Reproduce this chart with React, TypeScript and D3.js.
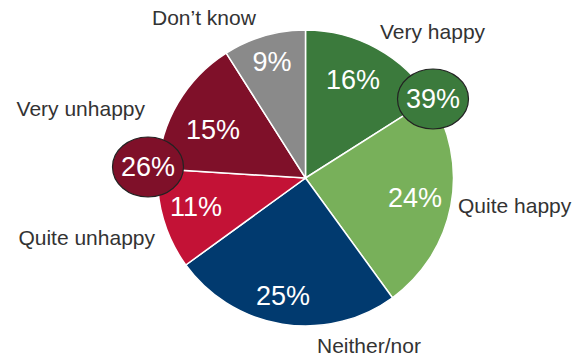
import React from "react";
import * as d3 from "d3";

const categories = ["Very happy", "Quite happy", "Neither/nor", "Quite unhappy", "Very unhappy", "Don\u2019t know"];
const values = [16, 24, 25, 11, 15, 9];
const colors = ["#3b7a3c", "#78b05a", "#013a6f", "#c31236", "#7f1029", "#8a8a8a"];
const labelPositions: [number, number, string][] = [
  [380, 39, "start"],
  [458, 213, "start"],
  [317, 353, "start"],
  [155, 245, "end"],
  [145, 116, "end"],
  [152, 25, "start"],
];
const pctOffsets: [number, number][] = [
  [353, 80],
  [415, 198],
  [283, 296],
  [196, 207],
  [213, 130],
  [272, 62],
];
const groupLabels = ["39%", "26%"];
const groupColors = ["#3b7a3c", "#7f1029"];
const groupCenters: [number, number][] = [
  [433, 99],
  [148, 167],
];

export default function App() {
  const cx = 305.5;
  const cy = 178;
  const r = 148;
  const pie = d3.pie<number>().sort(null).value((d) => d)(values);
  const arc = d3.arc<d3.PieArcDatum<number>>().innerRadius(0).outerRadius(r);
  return (
    <svg width={582} height={359} style={{ position: "absolute", left: 0, top: 0, fontFamily: "Liberation Sans, Arial, sans-serif" }}>
      <rect width={582} height={359} fill="#fff" />
      <g transform={`translate(${cx},${cy})`}>
        {pie.map((d, i) => (
          <path key={i} d={arc(d) || ""} fill={colors[i]} stroke="#fff" strokeWidth={1.5} />
        ))}
      </g>
      {pie.map((d, i) => (
        <text key={"p" + i} x={pctOffsets[i][0]} y={pctOffsets[i][1]} fill="#fff" fontSize={27} textAnchor="middle" dominantBaseline="central">
          {values[i]}%
        </text>
      ))}
      {groupLabels.map((g, i) => (
        <g key={"g" + i}>
          <ellipse cx={groupCenters[i][0]} cy={groupCenters[i][1]} rx={35.5} ry={30} fill={groupColors[i]} stroke="#222" strokeWidth={1.2} />
          <text x={groupCenters[i][0]} y={groupCenters[i][1]} fill="#fff" fontSize={27} textAnchor="middle" dominantBaseline="central">
            {g}
          </text>
        </g>
      ))}
      {categories.map((c, i) => (
        <text key={"c" + i} x={labelPositions[i][0]} y={labelPositions[i][1]} fill="#333" fontSize={21} textAnchor={labelPositions[i][2] as any}>
          {c}
        </text>
      ))}
    </svg>
  );
}
